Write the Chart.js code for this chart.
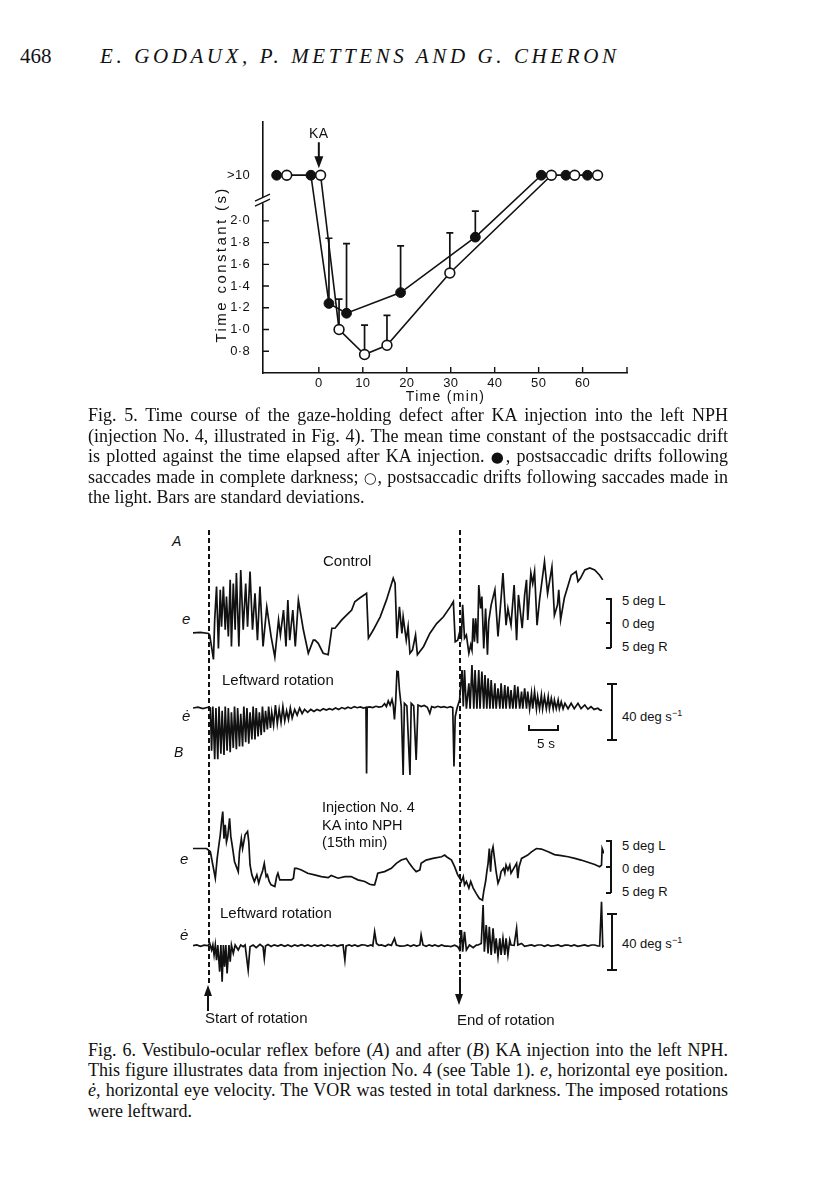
<!DOCTYPE html>
<html lang="en">
<head>
<meta charset="UTF-8">
<title>Godaux, Mettens and Cheron - Figs 5 and 6</title>
<script src="https://cdn.jsdelivr.net/npm/chart.js@4.4.0/dist/chart.umd.min.js"></script>
<style>
  body { margin: 0; background: #fff; }
  .page { position: relative; width: 816px; height: 1183px; overflow: hidden; color: #111;
          font-family: "Liberation Serif", "Times New Roman", serif; }
  .t { position: absolute; white-space: nowrap; line-height: 20px; }
  .sans { font-family: "Liberation Sans", Arial, sans-serif; }
  .cap { position: absolute; left: 88px; width: 640px; font-size: 18px; line-height: 20px; white-space: nowrap; }
  .just { text-align: justify; text-align-last: justify; }
  .sym { font-family: "DejaVu Sans", sans-serif; font-size: 15px; line-height: 0; }
  canvas { position: absolute; }
  .dash { position: absolute; width: 1.6px;
          background: repeating-linear-gradient(to bottom, #111 0 5px, transparent 5px 8px); }
  .line { position: absolute; background: #111; }
  sup { font-size: 9px; vertical-align: 5px; }
</style>
</head>
<body>
<div class="page">
  <div class="t" style="left:20px; top:46px; font-size:21px;">468</div>
  <div class="t" style="left:100px; top:46px; font-size:21px; font-style:italic; letter-spacing:3.6px;">E. GODAUX, P. METTENS AND G. CHERON</div>

  <canvas id="fig5" width="520" height="312" style="left:140px; top:100px;"></canvas>

  <div class="cap just" style="top:405px;">Fig. 5. Time course of the gaze-holding defect after KA injection into the left NPH</div>
  <div class="cap just" style="top:426px;">(injection No. 4, illustrated in Fig. 4). The mean time constant of the postsaccadic drift</div>
  <div class="cap just" style="top:446px;">is plotted against the time elapsed after KA injection. <span class="sym">●</span>, postsaccadic drifts following</div>
  <div class="cap just" style="top:467px;">saccades made in complete darkness; <span class="sym">○</span>, postsaccadic drifts following saccades made in</div>
  <div class="cap" style="top:487px;">the light. Bars are standard deviations.</div>

  <!-- Fig. 6 -->
  <div class="dash" style="left:208px; top:530px; height:454px;"></div>
  <div class="dash" style="left:459px; top:530px; height:446px;"></div>

  <canvas id="aPos" width="411" height="115" style="left:193px; top:555px;"></canvas>
  <canvas id="aVel" width="411" height="150" style="left:193px; top:640px;"></canvas>
  <canvas id="bPos" width="411" height="100" style="left:193px; top:805px;"></canvas>
  <canvas id="bVel" width="411" height="100" style="left:193px; top:895px;"></canvas>

  <div class="t sans" style="left:172px; top:531px; font-size:14px; font-style:italic;">A</div>
  <div class="t sans" style="left:174px; top:742px; font-size:14px; font-style:italic;">B</div>
  <div class="t sans" style="left:323px; top:551px; font-size:15px;">Control</div>
  <div class="t sans" style="left:182px; top:609px; font-size:15px; font-style:italic;">e</div>
  <div class="t sans" style="left:222px; top:670px; font-size:15px;">Leftward rotation</div>
  <div class="t sans" style="left:182px; top:706px; font-size:15px; font-style:italic;">ė</div>

  <div class="t sans" style="left:622px; top:591px; font-size:13px;">5 deg L</div>
  <div class="t sans" style="left:622px; top:614px; font-size:13px;">0 deg</div>
  <div class="t sans" style="left:622px; top:637px; font-size:13px;">5 deg R</div>
  <div class="line" style="left:610px; top:598px; width:1.5px; height:50px;"></div>
  <div class="line" style="left:606px; top:598px; width:5px; height:1.5px;"></div>
  <div class="line" style="left:606px; top:622px; width:5px; height:1.5px;"></div>
  <div class="line" style="left:606px; top:647px; width:5px; height:1.5px;"></div>

  <div class="line" style="left:611px; top:683px; width:1.6px; height:57px;"></div>
  <div class="line" style="left:607px; top:683px; width:10px; height:1.6px;"></div>
  <div class="line" style="left:607px; top:739px; width:10px; height:1.6px;"></div>
  <div class="t sans" style="left:622px; top:703px; font-size:13px;">40 deg s<sup>−1</sup></div>

  <div class="line" style="left:528px; top:729px; width:31px; height:1.5px;"></div>
  <div class="line" style="left:528px; top:725px; width:1.5px; height:5px;"></div>
  <div class="line" style="left:557px; top:725px; width:1.5px; height:5px;"></div>
  <div class="t sans" style="left:537px; top:734px; font-size:13.5px;">5 s</div>

  <div class="t sans" style="left:322px; top:797px; font-size:14.5px;">Injection No. 4</div>
  <div class="t sans" style="left:322px; top:815px; font-size:14.5px;">KA into NPH</div>
  <div class="t sans" style="left:322px; top:832px; font-size:14.5px;">(15th min)</div>
  <div class="t sans" style="left:180px; top:849px; font-size:15px; font-style:italic;">e</div>
  <div class="t sans" style="left:220px; top:903px; font-size:15px;">Leftward rotation</div>
  <div class="t sans" style="left:180px; top:925px; font-size:15px; font-style:italic;">ė</div>

  <div class="t sans" style="left:622px; top:836px; font-size:13px;">5 deg L</div>
  <div class="t sans" style="left:622px; top:859px; font-size:13px;">0 deg</div>
  <div class="t sans" style="left:622px; top:882px; font-size:13px;">5 deg R</div>
  <div class="line" style="left:610px; top:840px; width:1.5px; height:53px;"></div>
  <div class="line" style="left:606px; top:840px; width:5px; height:1.5px;"></div>
  <div class="line" style="left:606px; top:866px; width:5px; height:1.5px;"></div>
  <div class="line" style="left:606px; top:892px; width:5px; height:1.5px;"></div>

  <div class="line" style="left:611px; top:913px; width:1.6px; height:57px;"></div>
  <div class="line" style="left:607px; top:913px; width:10px; height:1.6px;"></div>
  <div class="line" style="left:607px; top:969px; width:10px; height:1.6px;"></div>
  <div class="t sans" style="left:622px; top:930px; font-size:13px;">40 deg s<sup>−1</sup></div>

  <!-- rotation arrows -->
  <div class="line" style="left:207px; top:995px; width:2px; height:16px;"></div>
  <div style="position:absolute; left:203.5px; top:985px; width:0; height:0; border-left:4.5px solid transparent; border-right:4.5px solid transparent; border-bottom:11px solid #111;"></div>
  <div class="line" style="left:458.5px; top:977px; width:2px; height:18px;"></div>
  <div style="position:absolute; left:455px; top:994px; width:0; height:0; border-left:4.5px solid transparent; border-right:4.5px solid transparent; border-top:11px solid #111;"></div>
  <div class="t sans" style="left:205px; top:1008px; font-size:15px;">Start of rotation</div>
  <div class="t sans" style="left:457px; top:1010px; font-size:15px;">End of rotation</div>

  <div class="cap just" style="top:1040px;">Fig. 6. Vestibulo-ocular reflex before (<i>A</i>) and after (<i>B</i>) KA injection into the left NPH.</div>
  <div class="cap just" style="top:1060px;">This figure illustrates data from injection No. 4 (see Table 1). <i>e</i>, horizontal eye position.</div>
  <div class="cap just" style="top:1080px;"><i>ė</i>, horizontal eye velocity. The VOR was tested in total darkness. The imposed rotations</div>
  <div class="cap" style="top:1101px;">were leftward.</div>
</div>

<script>
  // ---------- Fig. 5 data (time in min, time constant in s) ----------
  const OVER = '>10'
  const darkTime = [-9.6, -1.8, 2.3, 6.3, 18.6, 35.6, 50.6, 56.2, 61.1]
  const darkTau = [OVER, OVER, 1.24, 1.15, 1.34, 1.85, OVER, OVER, OVER]
  const darkSd = [0, 0, 0.60, 0.64, 0.43, 0.24, 0, 0, 0]
  const lightTime = [-7.3, 0.4, 4.6, 10.4, 15.5, 29.8, 52.9, 58.2, 63.4]
  const lightTau = [OVER, OVER, 1.00, 0.77, 0.855, 1.52, OVER, OVER, OVER]
  const lightSd = [0, 0, 0.28, 0.27, 0.275, 0.37, 0, 0, 0]
  const xTicks = [0, 10, 20, 30, 40, 50, 60]
  const yTicks = [0.8, 1.0, 1.2, 1.4, 1.6, 1.8, 2.0]

  // ---------- Fig. 6 traces: [time (s), deg] and [time (s), deg/s] ----------
  const aPos = [[0,-2.1],[1.2,-2.0],[2.5,-2.2],[2.7,-2.5],[3.3,-7.2],[3.5,0.4],[3.8,6.8],[4.1,-5.1],[4.4,6.2],[4.6,-0.9],
    [4.9,6.8],[5.2,-1.5],[5.4,4.9],[5.7,-2.8],[6.0,8.1],[6.2,-4.7],[6.5,7.4],[6.8,-1.5],[7.0,9.4],[7.4,-4.7],
    [7.7,10.0],[8.1,-1.5],[8.5,7.4],[8.8,-0.9],[9.2,9.7],[9.6,-1.5],[10.0,5.5],[10.4,-3.5],[10.8,6.8],[11.3,-4.7],
    [11.9,2.9],[12.6,-2.8],[13.2,-6.7],[13.8,0.4],[14.1,-2.5],[14.6,2.3],[15.0,-4.7],[15.3,4.2],[15.6,-3.5],[16.1,2.3],
    [16.5,-4.7],[17.0,4.2],[17.8,-1.5],[18.6,-6.0],[19.4,-3.5],[19.7,-3.5],[20.2,-4.1],[21.0,-6.0],[21.8,-6.3],[22.4,-1.2],
    [22.9,-1.2],[24.0,0.4],[25.1,1.7],[25.6,2.3],[26.1,3.9],[26.9,4.6],[28.0,5.5],[28.3,-3.1],[29.1,-1.5],[30.2,1.0],
    [31.2,4.2],[32.3,8.4],[32.6,7.4],[32.9,-3.1],[33.3,2.9],[33.7,-2.2],[33.9,1.0],[34.4,-3.5],[34.7,-0.9],[35.0,-6.0],
    [35.4,-5.4],[35.9,-2.5],[36.2,-6.3],[37.2,-4.7],[38.2,-2.2],[39.3,-0.3],[40.4,1.0],[41.5,2.9],[42.0,3.9],[42.3,-3.8],
    [42.7,-3.5],[43.1,-1.5],[43.3,-2.8],[43.5,3.3],[43.8,-3.1],[44.1,-2.5],[44.5,-6.0],[44.8,-4.4],[45.0,-5.4],[45.2,0.7],
    [45.4,-3.8],[45.6,0.7],[45.9,-4.1],[46.1,7.1],[46.4,2.6],[46.6,4.9],[46.9,-5.1],[47.2,2.6],[47.5,-6.3],[47.7,0.1],
    [48.1,3.3],[48.7,6.2],[49.2,-2.8],[49.7,4.6],[50.0,9.4],[50.5,-0.6],[50.8,2.6],[51.3,-0.6],[51.8,7.1],[52.2,-3.5],
    [52.5,5.2],[53.1,-1.2],[53.5,5.2],[53.8,8.1],[54.0,0.4],[54.5,9.4],[54.8,7.4],[55.1,9.7],[55.5,-0.6],[55.9,4.2],
    [56.7,11.6],[57.2,5.5],[57.9,10.6],[58.3,1.3],[58.8,3.3],[59.0,6.2],[59.3,0.4],[59.9,4.6],[61.0,9.0],[61.8,9.7],
    [62.1,7.8],[62.5,8.4],[63.2,10.0],[64.0,10.4],[64.8,10.0],[65.6,9.0],[66.1,8.1]]

  const aVel = [[0,0],[0.8,0.6],[1.6,-0.4],[2.4,0.5],[2.8,0],
    [3.0,-30],[3.2,1],[3.5,-36],[3.7,0],[4.0,-36],[4.2,1],[4.5,-32],[4.7,-2],[5.0,-33],[5.2,1],[5.5,-30],[5.7,0],
    [6.0,-31],[6.2,-3],[6.5,-28],[6.7,1],[7.0,-29],[7.2,0],[7.5,-27],[7.7,-4],[8.0,-27],[8.2,1],[8.5,-24],[8.7,0],
    [9.0,-25],[9.2,-3],[9.5,-22],[9.7,1],[10.0,-22],[10.2,0],[10.5,-20],[10.7,-3],[11.0,-19],[11.2,1],[11.5,-17],
    [11.7,-2],[12.0,-15],[12.2,1],[12.5,-14],[12.7,-3],[13.0,-12],[13.3,2],[13.6,-11],[13.9,-1],[14.2,-10],[14.5,1],
    [14.8,-9],[15.1,-2],[15.4,-8],[15.7,0],[16.0,-7],[16.4,-1],[16.8,-5],[17.2,0],[17.6,-4],[18.0,-1],[18.5,-3],
    [19.0,-1],[19.5,-2.5],[20.0,-1],[20.5,-2],[21.0,-0.5],[21.5,-1.5],[22.0,-0.5],[22.5,-1.2],[23.0,0],[23.5,-1],
    [24.0,0.3],[24.5,-0.5],[25.0,0.5],[25.5,-0.3],[26.0,1],[26.5,0.2],[27.0,0.8],[27.5,0],[27.9,0.5],[28.0,-46],
    [28.1,0.5],[28.5,0.8],[29.0,0.3],[29.5,1.2],[30.0,0.6],[30.5,1.0],[30.9,3],[31.2,1],[31.5,5],[31.8,2],[32.1,6],
    [32.3,2],[32.5,-8],[32.7,5],[32.9,25.7],[33.1,25.5],[33.3,12.6],[33.6,0.9],[33.9,-47],[34.1,3.3],[34.5,1.5],
    [35.0,-47],[35.2,3.3],[35.6,1.5],[36.0,-36.5],[36.3,2.1],[36.8,1],[37.3,1.8],[37.8,0.5],[38.2,-3.7],[38.5,1],
    [39.0,0.3],[39.5,1.2],[40.0,0.5],[40.5,1.0],[41.0,0.2],[41.5,0.9],[41.9,0.3],[42.1,-41],[42.3,-6],[42.6,0],
    [43.0,5.6],[43.4,26.7],[43.6,1],[43.8,26.7],[44.1,-0.5],[44.5,17.3],[44.7,-0.5],[45.0,30.2],[45.3,-0.5],[45.5,26.7],
    [45.8,-0.5],[46.1,26.7],[46.3,-0.5],[46.6,25.5],[46.9,-0.5],[47.1,23.2],[47.4,-0.5],[47.6,20.8],[47.9,-0.5],
    [48.1,19.6],[48.4,-0.5],[48.7,17.3],[48.9,-0.5],[49.2,13.8],[49.5,-0.5],[49.7,17.3],[50.0,-0.5],[50.3,16.1],
    [50.5,-0.5],[50.8,15.0],[51.1,-0.5],[51.3,12.6],[51.6,-0.5],[51.9,16.1],[52.1,-0.5],[52.4,15.0],[52.7,-0.5],
    [53.0,11.5],[53.2,-0.5],[53.5,13.8],[53.8,-0.5],[54.0,11.5],[54.3,-0.5],[54.6,10.3],[54.8,-0.5],[55.1,11.5],
    [55.4,-0.5],[55.6,8.0],[55.9,-0.5],[56.2,9.1],[56.4,-0.5],[56.7,8.0],[57.0,-0.5],[57.3,8.0],[57.5,-0.5],[57.8,6.8],
    [58.1,-0.5],[58.3,5.6],[58.6,-0.5],[58.9,5.6],[59.1,-0.5],[59.4,4.4],[59.7,-0.5],[60.0,3.3],[60.5,-0.5],[61.0,3.3],
    [61.5,-0.5],[62.1,3.3],[62.6,-0.5],[63.2,2.1],[63.7,-0.8],[64.2,0.9],[64.7,-1],[65.3,-0.2],[65.7,-1.6],[66.0,-1.4]]

  const bPos = [[0,3.0],[2.2,3.0],[2.5,2.7],[2.8,2.4],[3.2,0],[3.6,-2.4],[3.9,1.2],[4.1,3.0],[4.4,5.5],[4.6,7.9],
    [4.8,9.7],[5.0,4.8],[5.2,7.3],[5.4,4.2],[5.6,5.2],[5.9,8.5],[6.1,5.2],[6.4,3.0],[6.7,0.6],[7.3,-1.2],
    [7.5,2.4],[7.8,4.8],[8.0,3.0],[8.2,4.2],[8.4,5.5],[8.8,6.1],[9.0,4.2],[9.2,0],[9.5,-1.8],[9.9,-3.0],
    [10.3,-1.8],[10.6,-3.3],[10.9,-2.1],[11.2,-1.2],[11.5,0.3],[11.8,-2.1],[12.0,-1.8],[12.3,-3.0],[12.6,-3.6],[13.2,-3.9],
    [13.5,-2.1],[13.7,-1.5],[14.0,-2.7],[14.5,-2.7],[15.1,-2.7],[15.9,-2.7],[16.2,-2.4],[16.4,-0.6],[16.7,-0.6],[17.5,-0.9],
    [18.5,-1.5],[19.6,-1.8],[20.7,-2.1],[21.8,-2.3],[22.3,-1.9],[23.4,-2.4],[24.5,-2.1],[25.5,-2.1],[26.6,-2.7],[27.7,-3.0],
    [28.5,-3.5],[29.0,-3.6],[29.3,-3.6],[29.6,-2.4],[29.8,-1.5],[30.9,-1.2],[32.0,-0.6],[32.8,0.3],[33.6,0.9],[34.4,1.2],
    [34.9,0.3],[35.5,-0.6],[36.0,-1.2],[36.6,-0.9],[36.8,0.3],[37.6,0.9],[38.7,1.2],[40.1,1.5],[40.6,1.8],[40.9,1.5],
    [41.7,0.9],[42.2,-0.3],[42.7,-1.8],[43.1,-2.5],[43.3,-3.0],[43.6,-2.1],[43.8,-3.6],[44.1,-3.0],[44.5,-4.2],[44.8,-3.0],
    [45.2,-4.2],[45.7,-5.2],[46.2,-6.1],[46.7,-6.4],[46.9,-4.8],[47.2,-3.0],[47.4,-1.2],[47.6,0.3],[47.8,3.0],[48.0,-1.2],
    [48.2,2.4],[48.4,3.3],[48.7,0.6],[48.9,-1.2],[49.2,-3.3],[49.5,-2.4],[49.7,-1.2],[50.1,-0.6],[50.3,-1.5],[50.5,0],
    [50.8,-0.9],[51.1,0],[51.3,-1.5],[51.9,-0.3],[52.2,0.3],[52.4,-2.4],[52.6,-0.3],[53.0,1.2],[53.5,1.5],[54.0,1.8],
    [54.6,2.4],[55.4,3.0],[56.2,2.9],[57.3,2.4],[58.3,1.9],[59.4,1.7],[60.5,1.5],[61.6,1.2],[62.6,0.9],[63.7,0.5],
    [64.8,0.1],[65.6,-0.3],[65.9,0],[66.0,3.0],[66.3,2.1]]

  const bVel = [[0,0],[0.6,0.5],[1.2,-0.5],[1.8,0.4],[2.4,0],[2.7,1.6],[3.0,-3.0],[3.2,0.5],[3.4,-6.5],[3.6,0.5],
    [3.8,-10.1],[4.0,0.5],[4.3,-18.2],[4.5,0.5],[4.7,-25.3],[4.9,0.5],[5.1,-14.7],[5.3,0.5],[5.5,-19.4],[5.8,0.5],
    [6.0,-11.2],[6.2,0.5],[6.5,-5.4],[6.8,0.5],[7.3,-3.0],[7.7,0.5],[8.1,-0.7],[8.4,0.5],[8.9,-17.1],[9.2,-0.7],
    [9.7,0.5],[10.2,-1.4],[10.8,0.9],[11.3,-0.7],[11.5,-8.9],[11.7,-0.2],[12.1,0.8],[12.6,-0.5],[13.1,0.6],[13.7,-0.2],
    [14.2,0.7],[14.8,-0.4],[15.3,0.5],[15.9,-0.6],[16.4,0.6],[16.9,-0.2],[17.5,0.7],[18.0,-0.3],[18.5,0.5],[19.1,-0.5],
    [19.6,0.6],[20.1,-0.3],[20.7,0.5],[21.2,-0.4],[21.7,0.6],[22.3,-0.2],[22.8,0.5],[23.3,-0.4],[23.8,0.4],[24.2,0.5],
    [24.5,-10.1],[24.7,-0.2],[25.2,0.6],[25.6,-0.3],[26.1,0.5],[26.6,-0.4],[27.2,0.6],[27.7,0.5],[28.2,-0.3],[28.7,0.6],
    [29.0,-0.2],[29.3,9.8],[29.6,1.6],[30.0,0.2],[30.4,0.5],[31.0,-0.4],[31.5,0.9],[32.0,0.2],[32.5,5.1],[32.8,0.5],
    [33.4,-0.3],[34.1,-0.2],[34.6,0.6],[35.1,-0.4],[35.6,0.5],[36.1,-0.3],[36.6,0.5],[36.8,7.5],[37.1,0.5],[37.6,-0.4],
    [38.1,0.6],[38.6,-0.3],[39.0,0.5],[39.6,-0.4],[40.1,0.5],[40.6,-0.3],[41.1,-0.2],[41.6,-0.6],[42.2,0.3],[42.7,-0.7],
    [43.0,-3.0],[43.3,11.0],[43.5,-4.2],[43.8,9.8],[44.1,-3.0],[44.6,0.5],[45.2,-1.4],[45.7,0.4],[46.0,0.5],[46.5,1.6],
    [46.8,28.5],[47.0,-4.2],[47.3,14.5],[47.6,-5.4],[47.8,13.3],[48.1,-6.5],[48.4,12.2],[48.7,-5.4],[48.9,5.1],[49.2,-7.7],
    [49.5,5.1],[49.7,-6.5],[50.0,5.1],[50.3,-6.5],[50.5,5.1],[50.8,-6.5],[51.1,4.0],[51.3,0.5],[51.8,0.3],[52.2,12.2],
    [52.4,0.5],[53.0,1.6],[53.5,-0.4],[54.0,0],[54.6,0.6],[55.1,-0.3],[55.6,0.5],[56.2,0.5],[56.7,-0.4],[57.2,0.5],
    [57.8,-0.3],[58.3,0],[58.9,0.5],[59.4,-0.4],[60.0,0.4],[60.5,0.5],[61.0,-0.3],[61.5,0.6],[62.1,-0.4],[62.6,0],
    [63.2,0.6],[63.7,-0.3],[64.3,0.5],[64.8,0.5],[65.3,-0.2],[65.6,-0.2],[65.9,30.9],[66.1,-0.7],[66.3,0]]

  // where the ">10" row and the axis break sit on the broken y axis
  const overRow = 2.42
  const axisBreak = 2.19
  const tau = v => v === OVER ? overRow : v
  const ink = '#111'
  const sansFamily = '"Liberation Sans", Arial, sans-serif'

  const fig5Extras = {
    id: 'fig5Extras',
    beforeDraw(chart) { chart.ctx.letterSpacing = '0.3px' },
    beforeDatasetsDraw(chart) {
      const { ctx, scales: { x, y } } = chart
      ctx.save()
      ctx.strokeStyle = ink
      ctx.lineWidth = 1.7
      ;[[darkTime, darkTau, darkSd], [lightTime, lightTau, lightSd]].forEach(([ts, vs, sds]) => {
        ts.forEach((t, i) => {
          if (!sds[i]) return
          const px = x.getPixelForValue(t)
          const y0 = y.getPixelForValue(vs[i])
          const y1 = y.getPixelForValue(vs[i] + sds[i])
          ctx.beginPath()
          ctx.moveTo(px, y0); ctx.lineTo(px, y1)
          ctx.moveTo(px - 3.5, y1); ctx.lineTo(px + 3.5, y1)
          ctx.stroke()
        })
      })
      ctx.restore()
    },
    afterDraw(chart) {
      const { ctx, chartArea: a, scales: { x, y } } = chart
      ctx.save()
      ctx.strokeStyle = ink
      ctx.fillStyle = ink
      ctx.lineWidth = 1.4
      // tick marks point into the plot
      ctx.beginPath()
      xTicks.concat([x.max]).forEach(v => {
        const px = x.getPixelForValue(v)
        ctx.moveTo(px, a.bottom); ctx.lineTo(px, a.bottom - 6)
      })
      yTicks.forEach(v => {
        const py = y.getPixelForValue(v)
        ctx.moveTo(a.left, py); ctx.lineTo(a.left + 6, py)
      })
      ctx.stroke()

      // axis break //
      const by = y.getPixelForValue(axisBreak)
      ctx.fillStyle = '#fff'
      ctx.fillRect(a.left - 2, by - 3, 4, 6)
      ctx.beginPath()
      ctx.moveTo(a.left - 8, by + 1); ctx.lineTo(a.left + 7, by - 6)
      ctx.moveTo(a.left - 8, by + 6); ctx.lineTo(a.left + 7, by - 1)
      ctx.stroke()

      // axis titles, spaced out like the original lettering
      ctx.fillStyle = ink
      ctx.textAlign = 'center'
      ctx.textBaseline = 'middle'
      ctx.letterSpacing = '1.3px'
      ctx.font = '14px ' + sansFamily
      ctx.fillText('Time (min)', (a.left + a.right) / 2 + 0.5, a.bottom + 24)
      ctx.save()
      ctx.translate(a.left - 41, y.getPixelForValue(1.6))
      ctx.rotate(-Math.PI / 2)
      ctx.letterSpacing = '2.4px'
      ctx.font = '15px ' + sansFamily
      ctx.fillText('Time constant (s)', 0, 0)
      ctx.restore()

      // KA injection arrow
      const kx = x.getPixelForValue(0)
      const ry = y.getPixelForValue(overRow)
      ctx.letterSpacing = '0.5px'
      ctx.font = '14px ' + sansFamily
      ctx.fillText('KA', kx, ry - 41)
      ctx.lineWidth = 2
      ctx.beginPath(); ctx.moveTo(kx, ry - 33); ctx.lineTo(kx, ry - 17); ctx.stroke()
      ctx.beginPath()
      ctx.moveTo(kx - 4.5, ry - 19); ctx.lineTo(kx + 4.5, ry - 19); ctx.lineTo(kx, ry - 7)
      ctx.closePath(); ctx.fill()
      ctx.restore()
    }
  }

  const tickFont = { family: sansFamily, size: 13 }

  new Chart(document.getElementById('fig5'), {
    type: 'line',
    data: {
      datasets: [
        {
          label: 'light',
          data: lightTime.map((t, i) => ({ x: t, y: tau(lightTau[i]) })),
          borderColor: ink, borderWidth: 1.6, tension: 0, clip: false,
          pointRadius: 4.9, pointBackgroundColor: '#fff', pointBorderColor: ink, pointBorderWidth: 1.6
        },
        {
          label: 'dark',
          data: darkTime.map((t, i) => ({ x: t, y: tau(darkTau[i]) })),
          borderColor: ink, borderWidth: 1.6, tension: 0, clip: false,
          pointRadius: 4.9, pointBackgroundColor: ink, pointBorderColor: ink, pointBorderWidth: 1
        }
      ]
    },
    options: {
      responsive: false,
      animation: false,
      events: [],
      layout: { padding: { top: 22, right: 33, bottom: 0, left: 0 } },
      plugins: { legend: { display: false }, tooltip: { enabled: false } },
      scales: {
        x: {
          type: 'linear', min: -12.7, max: 70.1,
          grid: { display: false, drawTicks: false },
          border: { display: true, color: ink, width: 1.6 },
          afterBuildTicks: s => { s.ticks = xTicks.map(v => ({ value: v })) },
          afterFit: s => { s.height = 39 },
          ticks: { color: ink, font: tickFont, padding: 3, autoSkip: false, maxRotation: 0 }
        },
        y: {
          type: 'linear', min: 0.6, max: 2.91,
          grid: { display: false, drawTicks: false },
          border: { display: true, color: ink, width: 1.6 },
          afterBuildTicks: s => { s.ticks = yTicks.concat([overRow]).map(v => ({ value: v })) },
          afterFit: s => { s.width = 123 },
          ticks: {
            color: ink, font: tickFont, padding: 13, autoSkip: false,
            callback: v => v === overRow ? '>10' : v.toFixed(1).replace('.', '·')
          }
        }
      }
    },
    plugins: [fig5Extras]
  })

  // ---------- Fig. 6 traces ----------
  const traceEnd = 66.3
  function trace(id, points, yMin, yMax) {
    new Chart(document.getElementById(id), {
      type: 'line',
      data: {
        datasets: [{
          data: points.map(p => ({ x: p[0], y: p[1] })),
          borderColor: ink, borderWidth: 1.7, pointRadius: 0, tension: 0, clip: false
        }]
      },
      options: {
        responsive: false,
        animation: false,
        events: [],
        layout: { padding: 0 },
        plugins: { legend: { display: false }, tooltip: { enabled: false } },
        scales: {
          x: { type: 'linear', display: false, min: 0, max: traceEnd },
          y: { type: 'linear', display: false, min: yMin, max: yMax }
        }
      }
    })
  }

  trace('aPos', aPos, -9.23, 12.88)
  trace('aVel', aVel, -57.54, 47.72)
  trace('bPos', bPos, -7.27, 10.91)
  trace('bVel', bVel, -34.6, 35.58)
</script>
</body>
</html>
